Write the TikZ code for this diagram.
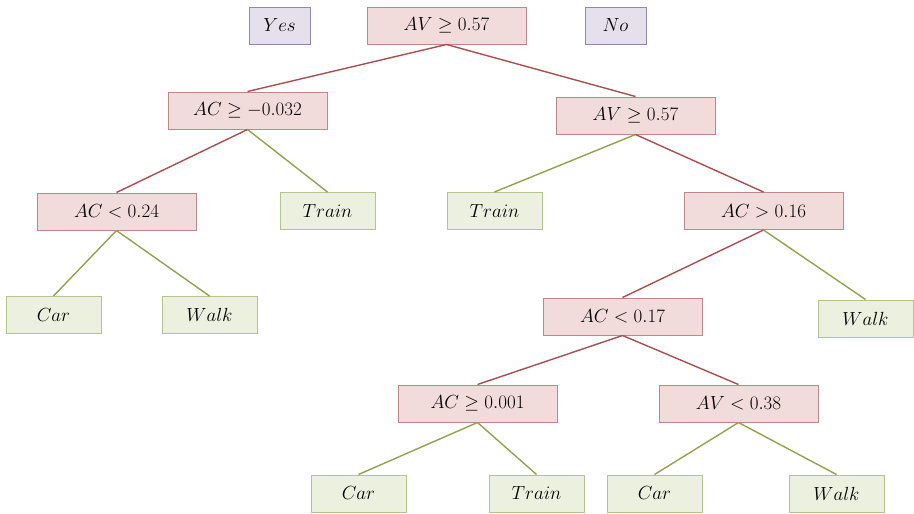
\RequirePackage{fix-cm}
\documentclass[tikz,border=0pt]{standalone}
\usepackage{amssymb}
\definecolor{rfill}{HTML}{F2DCDB}
\definecolor{rdraw}{HTML}{C0868A}
\definecolor{gfill}{HTML}{EBF1DE}
\definecolor{gdraw}{HTML}{B3C58A}
\definecolor{pfill}{HTML}{E5E0EC}
\definecolor{pdraw}{HTML}{8E89A8}
\definecolor{rline}{HTML}{A8504F}
\definecolor{gline}{HTML}{8FA44E}
\begin{document}
\begin{tikzpicture}[x=1pt,y=-1pt,
  every node/.style={font=\fontsize{19}{22}\selectfont, inner sep=0pt, line width=1pt},
  cond/.style={draw=rdraw, fill=rfill, minimum width=159pt, minimum height=37pt},
  leaf/.style={draw=gdraw, fill=gfill, minimum width=95pt, minimum height=37pt},
  tag/.style={draw=pdraw, fill=pfill, minimum width=61pt, minimum height=37pt},
  redge/.style={draw=rline, line width=1.4pt},
  gedge/.style={draw=gline, line width=1.4pt}]
\useasboundingbox (0,0) rectangle (914,514);
\fill[white] (0,0) rectangle (914,514);
\node[tag] (yes) at (279.5,25.5) {$Yes$};
\node[cond] (root) at (446.5,25.5) {$AV \geq 0.57$};
\node[tag] (no) at (615.5,25.5) {$No$};
\node[cond] (n1) at (247.5,110.5) {$AC \geq -0.032$};
\node[cond] (n2) at (635.5,115.5) {$AV \geq 0.57$};
\node[cond] (n3) at (116.5,211.5) {$AC < 0.24$};
\node[leaf] (t1) at (327.5,211) {$Train$};
\node[leaf] (t2) at (494.5,211) {$Train$};
\node[cond] (n4) at (763.5,211) {$AC > 0.16$};
\node[leaf] (c1) at (53.5,315) {$Car$};
\node[leaf] (w1) at (209.5,315) {$Walk$};
\node[cond] (n5) at (622.5,316.5) {$AC < 0.17$};
\node[leaf] (w2) at (865.5,318.5) {$Walk$};
\node[cond] (n6) at (477.5,403.5) {$AC \geq 0.001$};
\node[cond] (n7) at (738.5,403.5) {$AV < 0.38$};
\node[leaf] (c2) at (358.5,493.5) {$Car$};
\node[leaf] (t3) at (536.5,493.5) {$Train$};
\node[leaf] (c3) at (654.5,493.5) {$Car$};
\node[leaf] (w3) at (836.5,493.5) {$Walk$};
\draw[redge] (root.south) -- (n1.north);
\draw[redge] (root.south) -- (n2.north);
\draw[redge] (n1.south) -- (n3.north);
\draw[gedge] (n1.south) -- (t1.north);
\draw[gedge] (n2.south) -- (t2.north);
\draw[redge] (n2.south) -- (n4.north);
\draw[gedge] (n3.south) -- (c1.north);
\draw[gedge] (n3.south) -- (w1.north);
\draw[redge] (n4.south) -- (n5.north);
\draw[gedge] (n4.south) -- (w2.north);
\draw[redge] (n5.south) -- (n6.north);
\draw[redge] (n5.south) -- (n7.north);
\draw[gedge] (n6.south) -- (c2.north);
\draw[gedge] (n6.south) -- (t3.north);
\draw[gedge] (n7.south) -- (c3.north);
\draw[gedge] (n7.south) -- (w3.north);
\end{tikzpicture}
\end{document}
